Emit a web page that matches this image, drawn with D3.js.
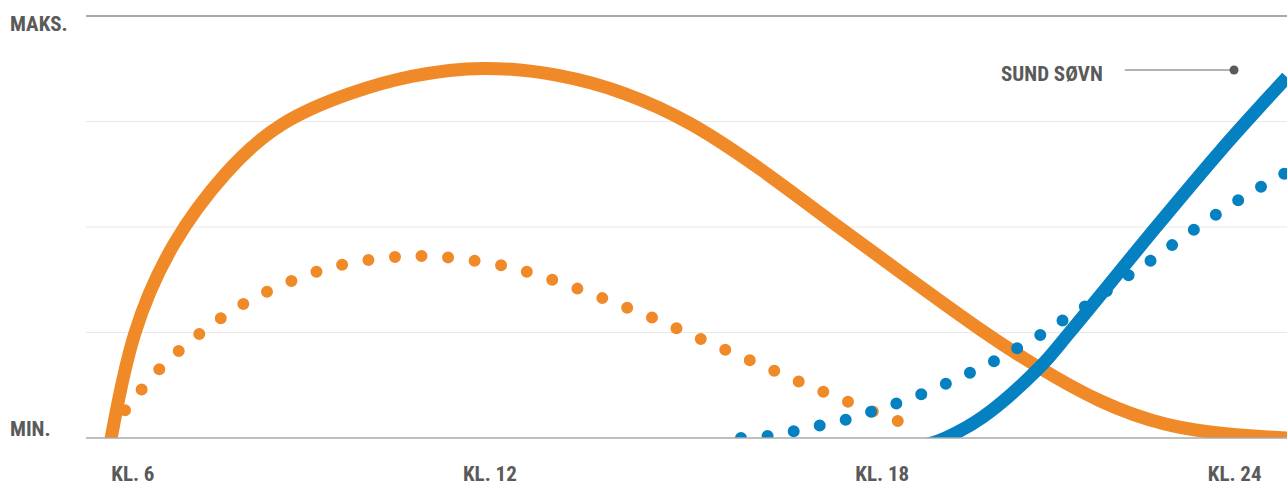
<!DOCTYPE html>
<html><head><meta charset="utf-8">
<script src="https://cdn.jsdelivr.net/npm/d3@7"></script>
<style>
body{margin:0;background:#fff}
svg{display:block}
text{font-family:"Liberation Sans Narrow","Roboto Condensed","Roboto",sans-serif;font-weight:bold;fill:#5a5a5a}
</style></head><body>
<svg id="c" width="1287" height="485"></svg>
<script>
// ---- data ----
const gridLevels = [25, 50, 75];
const yLabelValues = [0, 100];
const yLabelTexts = ["MIN.", "MAKS."];
const xTickHours = [6.35, 11.81, 17.81, 23.20];
const xTickLabels = ["KL. 6", "KL. 12", "KL. 18", "KL. 24"];

// [hour, level 0-100]
const orangeSolid = [[5.92,-7.6],[6.02,0],[6.32,25.1],[6.95,46.9],[7.77,63.5],[8.58,75.1],
  [9.72,82.2],[10.59,86.0],[11.70,88.3],[12.88,86.3],[13.88,82.0],[14.87,75.1],[15.94,64.0],
  [17.12,50.2],[18.23,37.7],[19.35,25.1],[20.18,16.8],[21.14,8.3],[22.16,2.6],[23.17,0.7],[24.00,0]];
const orangeDotted = [[6.23,6.6],[6.73,15.9],[7.33,24.2],[7.99,31.3],[8.74,37.0],[9.53,41.0],[10.37,42.9],
  [10.80,43.1],[11.21,42.7],[12.03,40.8],[12.82,37.2],[13.57,32.9],[14.34,28.2],[15.07,23.2],
  [15.82,18.2],[16.55,13.3],[17.30,8.5],[18.05,4.0],[18.43,1.9]];
const blueSolid = [[18.16,-1.9],[18.54,-1.3],[18.78,0],[19.35,5.0],[20.22,16.8],[20.68,25.1],
  [22.01,50.2],[22.99,68.2],[23.68,80.1],[24.00,85.5]];
const blueDotted = [[15.65,0],[16.06,0.5],[16.48,1.7],[16.89,3.1],[17.29,4.5],[17.68,6.4],[18.08,8.5],
  [18.46,10.7],[18.85,13.3],[19.21,15.9],[19.58,18.7],[19.93,21.8],[20.28,24.9],[20.62,28.4],
  [20.97,31.8],[21.61,38.9],[21.95,42.4],[22.27,46.0],[22.59,49.5],[22.93,53.1],[23.28,56.6],
  [23.62,59.7],[24.00,63.0]];
const annotationText = "SUND SØVN";
const annotationPoint = [23.19, 87.2];
const annotationLineFrom = 21.52;

// ---- layout ----
const mLeft = 86, mRight = 1287, mTop = 16, mBottom = 438;
const x = d3.scaleLinear().domain([6, 24]).range([110, 1287]);
const y = d3.scaleLinear().domain([0, 100]).range([mBottom, mTop]);
const ORANGE = "#F08A28", BLUE = "#0580C1";

const svg = d3.select("#c");
svg.append("defs").append("clipPath").attr("id","clip")
  .append("rect").attr("x", mLeft).attr("y", 0).attr("width", mRight-mLeft).attr("height", mBottom);

// grid
svg.append("g").selectAll("line").data(gridLevels).join("line")
  .attr("x1", mLeft).attr("x2", mRight).attr("y1", d=>y(d)).attr("y2", d=>y(d))
  .attr("stroke", "#e8e8e8").attr("stroke-width", 1);
svg.append("line").attr("x1", mLeft).attr("x2", mRight).attr("y1", y(100)).attr("y2", y(100))
  .attr("stroke", "#555").attr("stroke-width", 1.2);

// y labels
svg.append("g").selectAll("text").data(yLabelValues).join("text")
  .attr("x", 10).attr("y", (d,i)=> i===0 ? y(d)-2 : y(d)+15)
  .attr("font-size", 21).text((d,i)=>yLabelTexts[i]);

// x labels
svg.append("g").selectAll("text").data(xTickHours).join("text")
  .attr("x", d=>x(d)).attr("y", 481).attr("text-anchor","middle")
  .attr("font-size", 21).text((d,i)=>xTickLabels[i]);

const line = d3.line().x(d=>x(d[0])).y(d=>y(d[1])).curve(d3.curveCatmullRom.alpha(0.5));
const smoothLine = d3.line().x(d=>x(d[0])).y(d=>y(d[1])).curve(d3.curveBasis);
const plot = svg.append("g").attr("clip-path","url(#clip)");

function dotted(data, color, gaps){
  const p = plot.append("path").attr("d", line(data)).attr("fill","none").attr("stroke", color)
    .attr("stroke-width", 12).attr("stroke-linecap","round");
  const L = p.node().getTotalLength();
  p.attr("stroke-dasharray", "0 " + (L / gaps));
}
function solid(data, color, gen){
  plot.append("path").attr("d", gen(data)).attr("fill","none").attr("stroke", color)
    .attr("stroke-width", 13).attr("stroke-linecap","butt");
}
dotted(orangeDotted, ORANGE, 33);
solid(orangeSolid, ORANGE, smoothLine);
dotted(blueDotted, BLUE, 23.12);
solid(blueSolid, BLUE, line);

// baseline
svg.append("line").attr("x1", mLeft).attr("x2", mRight).attr("y1", y(0)).attr("y2", y(0))
  .attr("stroke", "#aaa").attr("stroke-width", 1.5);

// annotation
const ax = x(annotationPoint[0]), ay = y(annotationPoint[1]);
svg.append("line").attr("x1", x(annotationLineFrom)).attr("x2", ax).attr("y1", ay).attr("y2", ay)
  .attr("stroke", "#666").attr("stroke-width", 1);
svg.append("circle").attr("cx", ax).attr("cy", ay).attr("r", 4.5).attr("fill", "#5a5a5a");
svg.append("text").attr("x", x(annotationLineFrom)-22).attr("y", ay+11).attr("text-anchor","end")
  .attr("font-size", 21).text(annotationText);
</script>
</body></html>
